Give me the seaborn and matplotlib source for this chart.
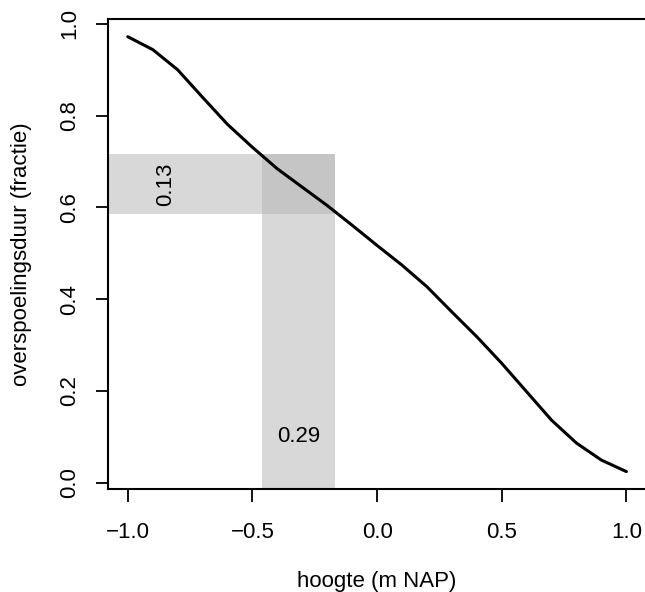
import numpy as np
import pandas as pd
import matplotlib
matplotlib.use("Agg")
import matplotlib.pyplot as plt
import seaborn as sns

# Data
hoogte = [-1.0, -0.9, -0.8, -0.7, -0.6, -0.5, -0.4, -0.3, -0.2, -0.1, 0.0,
          0.1, 0.2, 0.3, 0.4, 0.5, 0.6, 0.7, 0.8, 0.9, 1.0]
fractie = [0.972, 0.944, 0.900, 0.840, 0.781, 0.731, 0.684, 0.644, 0.604, 0.561, 0.517,
           0.474, 0.427, 0.372, 0.318, 0.260, 0.198, 0.136, 0.086, 0.049, 0.024]

band_x = [-0.46, -0.17]   # range in hoogte
band_y = [0.585, 0.717]   # range in fractie

x_ticks = [-1.0, -0.5, 0.0, 0.5, 1.0]
y_ticks = [0.0, 0.2, 0.4, 0.6, 0.8, 1.0]

df = pd.DataFrame({"hoogte": hoogte, "fractie": fractie})

sns.set_theme(style="white")
plt.rcParams["font.family"] = ["Liberation Sans", "DejaVu Sans"]

fig = plt.figure(figsize=(6.45, 5.92), dpi=100)
ax = fig.add_axes([0.1671, 0.174, 0.835, 0.7934])

shade = (0.70, 0.70, 0.70, 0.5)
# horizontal band (extends to the left edge of the plot)
ax.fill_between([-10, band_x[1]], band_y[0], band_y[1], color=shade, lw=0)
# vertical band (extends down to the bottom of the plot)
ax.fill_between([band_x[0], band_x[1]], -10, band_y[1], color=shade, lw=0)

sns.lineplot(data=df, x="hoogte", y="fractie", color="black", lw=2.2, ax=ax)

xr = max(hoogte) - min(hoogte)
yr = max(fractie) - min(fractie)
ax.set_xlim(min(hoogte) - 0.04 * xr, max(hoogte) + 0.04 * xr)
ax.set_ylim(min(fractie) - 0.04 * yr, max(fractie) + 0.04 * yr)

ax.text(-0.85, np.mean(band_y), f"{band_y[1] - band_y[0]:.2f}", rotation=90,
        ha="center", va="center", fontsize=16, color="black")
ax.text(np.mean(band_x), 0.10, f"{band_x[1] - band_x[0]:.2f}",
        ha="center", va="center", fontsize=16, color="black")

ax.set_xticks(x_ticks)
ax.set_xticklabels([f"{v:.1f}".replace("-", "\u2212") for v in x_ticks])
ax.set_yticks(y_ticks)
ax.set_yticklabels([f"{v:.1f}" for v in y_ticks], rotation=90, va="center")

ax.tick_params(axis="both", direction="out", length=9, width=1.3, color="black",
               labelsize=16, labelcolor="black")
ax.tick_params(axis="x", pad=15, bottom=True)
ax.tick_params(axis="y", pad=11, left=True)

for s in ["left", "bottom", "top"]:
    ax.spines[s].set_visible(True)
    ax.spines[s].set_color("black")
    ax.spines[s].set_linewidth(1.5)
ax.spines["right"].set_visible(False)

ax.set_xlabel("hoogte (m NAP)", fontsize=16, color="black", va="center")
ax.set_ylabel("overspoelingsduur (fractie)", fontsize=16, color="black", va="center")
ax.xaxis.set_label_coords(0.5, -0.196)
ax.yaxis.set_label_coords(-0.161, 0.5)

fig.savefig("out.png", dpi=100)
